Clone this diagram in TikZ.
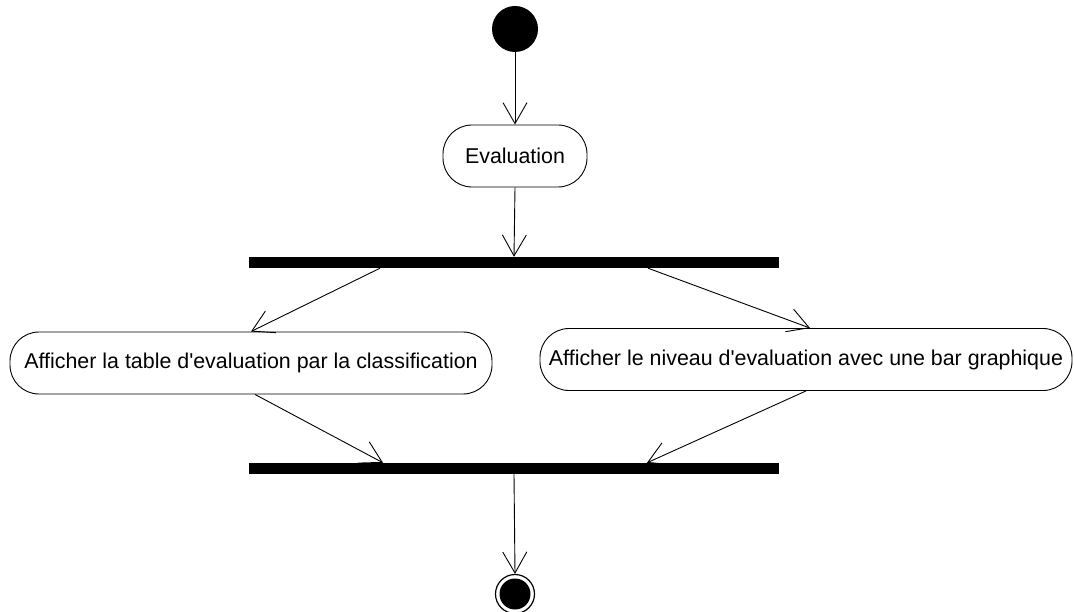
\documentclass[tikz,border=0pt]{standalone}
\usepackage{fontspec}
\setmainfont{Liberation Sans}
\usepackage{textcomp}
\usetikzlibrary{arrows.meta,calc}
\begin{document}
\begin{tikzpicture}[x=1pt,y=-1pt,
  flow/.style={draw=black,line width=0.9pt,-{Straight Barb[length=21pt,width=24pt,line width=0.9pt]}},
  action/.style={draw=black,line width=0.9pt,rectangle,rounded corners=29pt,inner sep=0pt,
    font=\fontsize{21.4}{25}\selectfont},
  syncbar/.style={fill=black,draw=none,rectangle,inner sep=0pt,minimum width=530pt,minimum height=11pt},
  startnode/.style={circle,fill=black,draw=none,inner sep=0pt,minimum size=46pt},
  endnode/.style={circle,draw=black,line width=1.2pt,fill=white,inner sep=0pt,minimum size=39pt,
    path picture={\fill[black] (path picture bounding box.center) circle (15.5pt);}}
]
\useasboundingbox (0,0) rectangle (1074,612);

\node[startnode] (start) at (515,29) {};
\node[action,minimum width=144pt,minimum height=62pt] (eval) at (515,156) {Evaluation};
\node[syncbar] (fork) at (514,262.5) {};
\node[action,minimum width=482pt,minimum height=62pt] (left) at (251,363) {Afficher la table d\textquotesingle evaluation par la classification};
\node[action,minimum width=532pt,minimum height=62pt] (right) at (806,359.5) {Afficher le niveau d\textquotesingle evaluation avec une bar graphique};
\node[syncbar] (join) at (514,468.5) {};
\node[endnode] (end) at (515,594) {};

\draw[flow] (start) -- (eval.north);
\draw[flow] (eval.south) -- (fork.north);
\draw[flow] ([xshift=-134pt]fork.south) -- (left.north);
\draw[flow] ([xshift=134pt]fork.south) -- ([xshift=4pt]right.north);
\draw[flow] ([xshift=4pt]left.south) -- ([xshift=-131pt]join.north);
\draw[flow] (right.south) -- ([xshift=133pt]join.north);
\draw[flow] (join.south) -- (end.north);
\end{tikzpicture}
\end{document}
